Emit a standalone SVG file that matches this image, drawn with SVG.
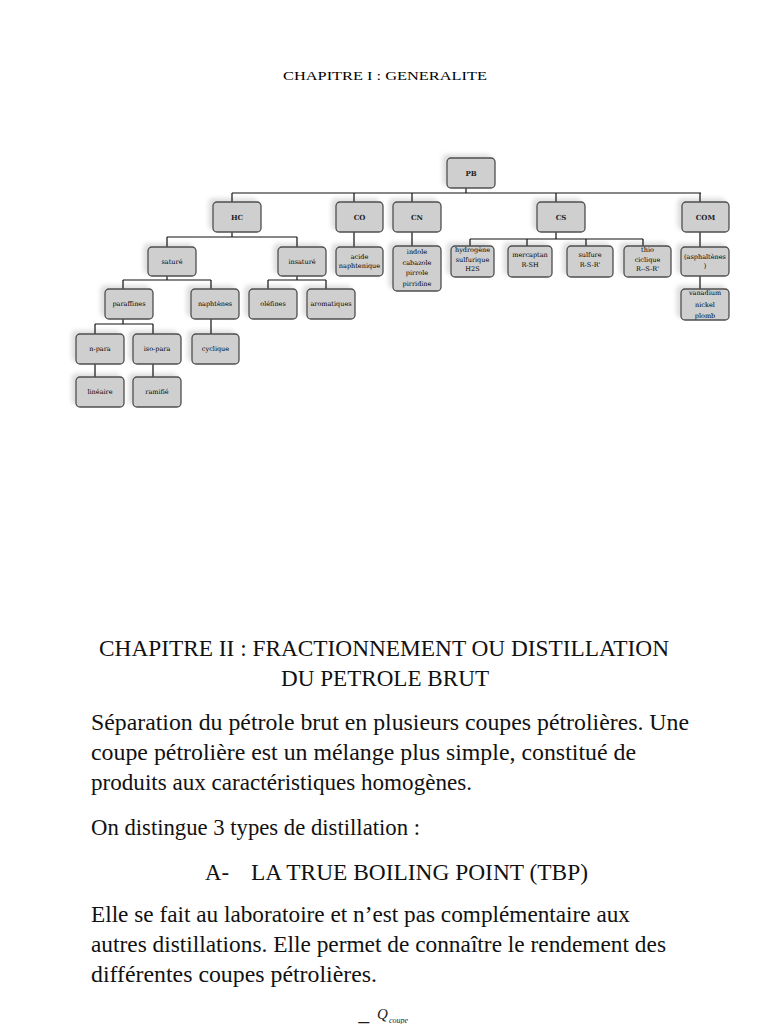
<svg xmlns="http://www.w3.org/2000/svg" width="768" height="1024" viewBox="0 0 768 1024">
<defs>
<filter id="sh" x="-40%" y="-40%" width="180%" height="180%">
<feGaussianBlur in="SourceAlpha" stdDeviation="2"/>
<feOffset dx="-4" dy="-3" result="b"/>
<feFlood flood-color="#000" flood-opacity="0.13"/>
<feComposite in2="b" operator="in"/>
<feMerge><feMergeNode/><feMergeNode in="SourceGraphic"/></feMerge>
</filter>
</defs>
<style>
.box{fill:#cfcfcf;stroke:#4f4f4f;stroke-width:1.3;filter:url(#sh)}
.t{font-family:"DejaVu Serif","Liberation Serif",serif;font-size:6.5px;fill:#000;text-anchor:middle}
.tb{font-family:"DejaVu Serif","Liberation Serif",serif;font-size:7px;font-weight:bold;fill:#222;text-anchor:middle}
.c{fill:none;stroke:#111;stroke-width:1.2}
.body{font-family:"Liberation Serif","Times New Roman",serif;font-size:23.5px;fill:#111}
</style>
<rect width="768" height="1024" fill="#fff"/>
<text x="283" y="80" font-family="Liberation Serif, serif" font-size="13" fill="#000" textLength="204" lengthAdjust="spacingAndGlyphs">CHAPITRE I : GENERALITE</text>

<g id="connectors">
<path class="c" d="M466 188V193M232 193H701M232 193V202M354 193V202M412 193V202M556 193V202M700 193V202"/>
<path class="c" d="M232 232V237M167 237H297M167 237V247M297 237V247"/>
<path class="c" d="M354 232V247M412 232V246"/>
<path class="c" d="M556 232V239M470 239H643M470 239V246M527 239V246M586 239V246M643 239V246"/>
<path class="c" d="M700 232V247M700 276V289"/>
<path class="c" d="M167 276V280M123 280H211M123 280V289M211 280V289"/>
<path class="c" d="M297 276V280M268 280H326M268 280V289M326 280V289"/>
<path class="c" d="M123 319V324M95 324H153M95 324V334M153 324V334M211 319V334"/>
<path class="c" d="M95 364V377M153 364V377"/>
</g>

<g id="PB"><rect class="box" x="447" y="158" width="48" height="30" rx="4"/><text class="tb" x="471" y="175.5">PB</text></g>
<g id="HC"><rect class="box" x="213" y="202" width="48" height="30" rx="4"/><text class="tb" x="237" y="219.5">HC</text></g>
<g id="CO"><rect class="box" x="336" y="202" width="47" height="30" rx="4"/><text class="tb" x="359.5" y="219.5">CO</text></g>
<g id="CN"><rect class="box" x="393" y="202" width="48" height="30" rx="4"/><text class="tb" x="417" y="219.5">CN</text></g>
<g id="CS"><rect class="box" x="537" y="202" width="48" height="30" rx="4"/><text class="tb" x="561" y="219.5">CS</text></g>
<g id="COM"><rect class="box" x="682" y="202" width="47" height="30" rx="4"/><text class="tb" x="705.5" y="219.5">COM</text></g>

<g id="sature"><rect class="box" x="148" y="247" width="48" height="29" rx="4"/><text class="t" x="172" y="264">saturé</text></g>
<g id="insature"><rect class="box" x="278" y="247" width="48" height="29" rx="4"/><text class="t" x="302" y="264">insaturé</text></g>
<g id="acide"><rect class="box" x="336" y="247" width="47" height="29" rx="4"/><text class="t" x="359.5" y="258.5">acide</text><text class="t" x="359.5" y="268">naphtenique</text></g>
<g id="indole"><rect class="box" x="393" y="246" width="48" height="45" rx="4"/><text class="t" x="417" y="254">indole</text><text class="t" x="417" y="264.5">cabazole</text><text class="t" x="417" y="275">pirrole</text><text class="t" x="417" y="285.5">pirridine</text></g>
<g id="hydrogene"><rect class="box" x="451" y="246" width="43" height="31" rx="4"/><text class="t" x="472.5" y="252">hydrogène</text><text class="t" x="472.5" y="261.5">sulfurique</text><text class="t" x="472.5" y="271">H2S</text></g>
<g id="mercaptan"><rect class="box" x="508" y="246" width="44" height="31" rx="4"/><text class="t" x="530" y="256.5">mercaptan</text><text class="t" x="530" y="266.5">R-SH</text></g>
<g id="sulfure"><rect class="box" x="567" y="246" width="46" height="31" rx="4"/><text class="t" x="590" y="256.5">sulfure</text><text class="t" x="590" y="266.5">R-S-R'</text></g>
<g id="thio"><rect class="box" x="624" y="246" width="47" height="31" rx="4"/><text class="t" x="647.5" y="252">thio</text><text class="t" x="647.5" y="261.5">ciclique</text><text class="t" x="647.5" y="271">R--S-R'</text></g>
<g id="asphaltenes"><rect class="box" x="681" y="247" width="48" height="29" rx="4"/><text class="t" x="705" y="258.5">(asphaltènes</text><text class="t" x="705" y="268">)</text></g>
<g id="vanadium"><rect class="box" x="681" y="289" width="48" height="31" rx="4"/><text class="t" x="705" y="295">vanadium</text><text class="t" x="705" y="306.5">nickel</text><text class="t" x="705" y="317.5">plomb</text></g>

<g id="paraffines"><rect class="box" x="105" y="289" width="48" height="30" rx="4"/><text class="t" x="129" y="306.3">paraffines</text></g>
<g id="naphtenes"><rect class="box" x="191" y="289" width="48" height="30" rx="4"/><text class="t" x="215" y="306.3">naphtènes</text></g>
<g id="olefines"><rect class="box" x="249" y="289" width="48" height="30" rx="4"/><text class="t" x="273" y="306.3">oléfines</text></g>
<g id="aromatiques"><rect class="box" x="307" y="289" width="48" height="30" rx="4"/><text class="t" x="331" y="306.3">aromatiques</text></g>
<g id="npara"><rect class="box" x="76" y="334" width="48" height="30" rx="4"/><text class="t" x="100" y="351.3">n-para</text></g>
<g id="isopara"><rect class="box" x="133" y="334" width="48" height="30" rx="4"/><text class="t" x="157" y="351.3">iso-para</text></g>
<g id="cyclique"><rect class="box" x="192" y="334" width="47" height="30" rx="4"/><text class="t" x="215.5" y="351.3">cyclique</text></g>
<g id="lineaire"><rect class="box" x="76" y="377" width="48" height="30" rx="4"/><text class="t" x="100" y="394.3">linéaire</text></g>
<g id="ramifie"><rect class="box" x="133" y="377" width="48" height="30" rx="4"/><text class="t" x="157" y="394.3">ramifié</text></g>

<text class="body" x="99" y="656" textLength="570" lengthAdjust="spacingAndGlyphs">CHAPITRE II : FRACTIONNEMENT OU DISTILLATION</text>
<text class="body" x="281" y="686" textLength="208" lengthAdjust="spacingAndGlyphs">DU PETROLE BRUT</text>
<text class="body" x="91" y="730" textLength="598" lengthAdjust="spacingAndGlyphs">Séparation du pétrole brut en plusieurs coupes pétrolières. Une</text>
<text class="body" x="91" y="760" textLength="545" lengthAdjust="spacingAndGlyphs">coupe pétrolière est un mélange plus simple, constitué de</text>
<text class="body" x="91" y="790" textLength="381" lengthAdjust="spacingAndGlyphs">produits aux caractéristiques homogènes.</text>
<text class="body" x="91" y="835" textLength="329" lengthAdjust="spacingAndGlyphs">On distingue 3 types de distillation :</text>
<text class="body" x="205" y="880" textLength="24" lengthAdjust="spacingAndGlyphs">A-</text>
<text class="body" x="251" y="880" textLength="337" lengthAdjust="spacingAndGlyphs">LA TRUE BOILING POINT (TBP)</text>
<text class="body" x="91" y="922" textLength="539" lengthAdjust="spacingAndGlyphs">Elle se fait au laboratoire et n’est pas complémentaire aux</text>
<text class="body" x="91" y="952" textLength="575" lengthAdjust="spacingAndGlyphs">autres distillations. Elle permet de connaître le rendement des</text>
<text class="body" x="91" y="982" textLength="286" lengthAdjust="spacingAndGlyphs">différentes coupes pétrolières.</text>
<text x="357" y="1033" font-family="Liberation Serif, serif" font-size="24" fill="#1a1a1a">=</text>
<text x="377" y="1019" font-family="Liberation Serif, serif" font-size="15" font-style="italic" fill="#1a1a1a">Q</text>
<text x="389" y="1023" font-family="Liberation Serif, serif" font-size="8" font-style="italic" fill="#1a1a1a">coupe</text>
</svg>
